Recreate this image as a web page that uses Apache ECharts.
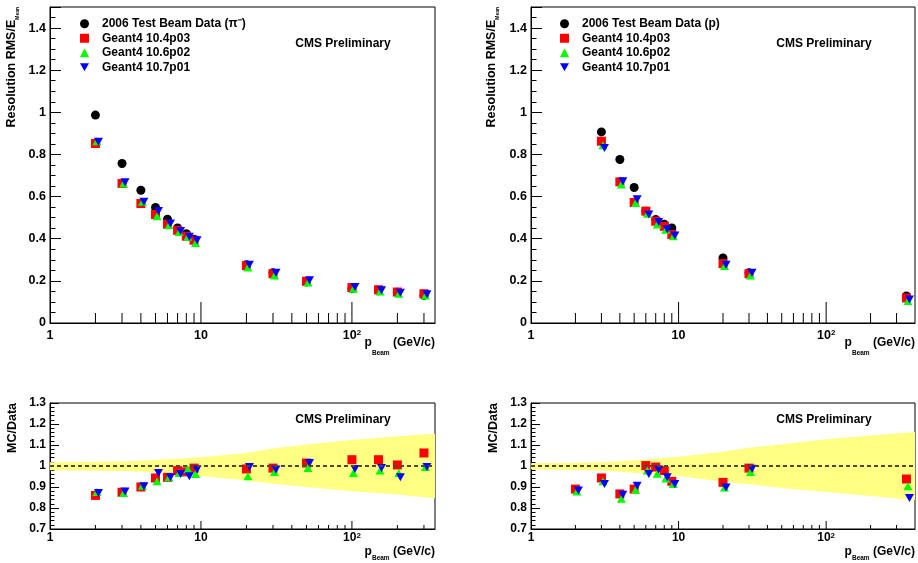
<!DOCTYPE html>
<html>
<head>
<meta charset="utf-8">
<script src="https://cdn.jsdelivr.net/npm/echarts@6/dist/echarts.min.js"></script>
<style>
html,body{margin:0;padding:0;background:#fff;}
#chart{width:918px;height:563px;}
</style>
</head>
<body>
<div id="chart"></div>
<script>
// ---------------- data ----------------
const legendPi = ['2006 Test Beam Data (\u03c0\u207b)', 'Geant4 10.4p03', 'Geant4 10.6p02', 'Geant4 10.7p01'];
const legendP  = ['2006 Test Beam Data (p)', 'Geant4 10.4p03', 'Geant4 10.6p02', 'Geant4 10.7p01'];

// pi- : beam momenta (GeV/c)
const xPi = [2, 3, 4, 5, 6, 7, 8, 9, 20, 30, 50, 100, 150, 200, 300];
const dataPi  = [0.987, 0.757, 0.630, 0.548, 0.493, 0.451, 0.424, 0.397, 0.277, 0.238, 0.195, 0.163, 0.153, 0.146, 0.131];
const redPi   = [0.852, 0.662, 0.567, 0.515, 0.469, 0.440, 0.412, 0.393, 0.272, 0.234, 0.198, 0.168, 0.158, 0.147, 0.139];
const greenPi = [0.863, 0.662, 0.575, 0.507, 0.464, 0.432, 0.409, 0.380, 0.263, 0.226, 0.192, 0.162, 0.150, 0.139, 0.131];
const bluePi  = [0.860, 0.668, 0.575, 0.532, 0.472, 0.437, 0.409, 0.393, 0.277, 0.238, 0.203, 0.171, 0.155, 0.144, 0.136];

const ratioRedPi   = [0.860, 0.875, 0.900, 0.943, 0.946, 0.978, 0.972, 0.990, 0.986, 0.990, 1.014, 1.030, 1.030, 1.005, 1.062];
const ratioGreenPi = [0.876, 0.871, 0.906, 0.927, 0.946, 0.967, 0.986, 0.962, 0.951, 0.971, 0.990, 0.967, 0.979, 0.967, 0.995];
const ratioBluePi  = [0.871, 0.879, 0.903, 0.967, 0.946, 0.962, 0.951, 0.983, 0.995, 0.983, 1.014, 0.986, 0.990, 0.946, 0.995];

// protons
const xP = [3, 4, 5, 6, 7, 8, 9, 20, 30, 350];
const dataP  = [0.907, 0.776, 0.643, 0.530, 0.491, 0.469, 0.451, 0.309, 0.238, 0.128];
const redP   = [0.863, 0.670, 0.572, 0.531, 0.483, 0.459, 0.420, 0.282, 0.234, 0.119];
const greenP = [0.844, 0.657, 0.570, 0.519, 0.467, 0.443, 0.412, 0.271, 0.226, 0.105];
const blueP  = [0.831, 0.673, 0.588, 0.515, 0.480, 0.445, 0.415, 0.277, 0.238, 0.111];

const xPr = [2, 3, 4, 5, 6, 7, 8, 9, 20, 30, 350];
const ratioRedP   = [0.890, 0.943, 0.867, 0.890, 1.002, 0.995, 0.978, 0.927, 0.922, 0.990, 0.938];
const ratioGreenP = [0.879, 0.927, 0.844, 0.887, 0.978, 0.963, 0.940, 0.914, 0.898, 0.971, 0.903];
const ratioBlueP  = [0.883, 0.914, 0.863, 0.906, 0.962, 0.983, 0.946, 0.914, 0.898, 0.987, 0.848];

// systematic bands (MC/Data)
const bandXL  = [1, 3, 5, 10, 20, 30, 50, 100, 200, 355];
const bandHiL = [1.018, 1.022, 1.029, 1.042, 1.062, 1.083, 1.102, 1.124, 1.142, 1.153];
const bandLoL = [0.980, 0.976, 0.970, 0.952, 0.931, 0.915, 0.900, 0.880, 0.864, 0.847];
const bandXR  = [1, 3, 5, 10, 20, 30, 50, 100, 200, 400];
const bandHiR = [1.013, 1.018, 1.026, 1.044, 1.068, 1.087, 1.104, 1.127, 1.145, 1.162];
const bandLoR = [0.985, 0.978, 0.968, 0.952, 0.925, 0.913, 0.895, 0.876, 0.857, 0.837];

// axis ticks
const xMajorTicks = [10, 100];
const xMinorTicks = [2, 3, 4, 5, 6, 7, 8, 9, 20, 30, 40, 50, 60, 70, 80, 90, 200, 300];

// ---------------- helpers ----------------
const FONT = '"Liberation Sans", Arial, Helvetica, sans-serif';
const INV_TRI = 'path://M0,0L10,0L5,9Z';
const pairs = (xs, ys) => xs.map((x, i) => [x, ys[i]]);

const GRIDS = [
  {left: 50,  top: 7,   width: 385, height: 316},
  {left: 531, top: 7,   width: 384, height: 316},
  {left: 50,  top: 403, width: 385, height: 126},
  {left: 531, top: 403, width: 384, height: 126}
];
const XMAX = [355, 400, 355, 400];
const YCFG = [
  {min: 0, max: 1.5, interval: 0.2, minor: 4, len: 11, mlen: 5.5, fs: 12.5},
  {min: 0, max: 1.5, interval: 0.2, minor: 4, len: 11, mlen: 5.5, fs: 12.5},
  {min: 0.7, max: 1.3, interval: 0.1, minor: 5, len: 9, mlen: 4.5, fs: 12},
  {min: 0.7, max: 1.3, interval: 0.1, minor: 5, len: 9, mlen: 4.5, fs: 12}
];
const XTICKLEN = [[21, 10], [21, 10], [8, 4], [8, 4]];

function xLabel(v) {
  const e = Math.log10(v);
  const r = Math.round(e);
  if (Math.abs(e - r) > 1e-6) return '';
  if (r === 0) return '1';
  if (r === 1) return '10';
  return '10{s|' + r + '}';
}

const grid = GRIDS.map(g => Object.assign({
  show: true, borderColor: '#000', borderWidth: 1, backgroundColor: 'transparent',
  containLabel: false, outerBoundsMode: 'none'
}, g));

const xAxis = GRIDS.map((g, i) => ({
  type: 'log', logBase: 10, gridIndex: i, min: 1, max: XMAX[i],
  axisLine: {show: true, lineStyle: {color: '#000', width: 1}},
  axisTick: {show: false}, minorTick: {show: false}, splitLine: {show: false},
  axisLabel: {
    show: true, margin: i < 2 ? 6 : 3, color: '#000', fontFamily: FONT, fontWeight: 'bold',
    fontSize: i < 2 ? 12.5 : 12, formatter: xLabel, showMaxLabel: false,
    rich: {s: {fontSize: 8, fontFamily: FONT, fontWeight: 'bold', color: '#000', verticalAlign: 'top', lineHeight: 8}}
  }
}));

const yAxis = YCFG.map((c, i) => ({
  type: 'value', gridIndex: i, min: c.min, max: c.max, interval: c.interval,
  axisLine: {show: true, lineStyle: {color: '#000', width: 1}},
  axisTick: {show: true, inside: true, length: c.len, lineStyle: {color: '#000', width: 1}},
  minorTick: {show: true, splitNumber: c.minor, length: c.mlen, lineStyle: {color: '#000', width: 1}},
  splitLine: {show: false}, minorSplitLine: {show: false},
  axisLabel: {show: true, margin: 4, color: '#000', fontFamily: FONT, fontWeight: 'bold', fontSize: c.fs,
              showMaxLabel: i < 2 ? false : true}
}));

function tickSeries(gi) {
  const ymin = YCFG[gi].min;
  const all = xMinorTicks.concat(xMajorTicks);
  return {
    type: 'custom', name: 'xticks' + gi, xAxisIndex: gi, yAxisIndex: gi, silent: true, z: 6,
    data: all.map(v => [v, ymin]),
    renderItem: function (params, api) {
      const v = api.value(0);
      const pt = api.coord([v, api.value(1)]);
      const len = xMajorTicks.indexOf(v) >= 0 ? XTICKLEN[gi][0] : XTICKLEN[gi][1];
      return {type: 'line', shape: {x1: pt[0], y1: pt[1], x2: pt[0], y2: pt[1] - len},
              style: {stroke: '#000', lineWidth: 1}};
    }
  };
}

function bandSeries(gi, bx, hi, lo) {
  return {
    type: 'custom', name: 'band' + gi, xAxisIndex: gi, yAxisIndex: gi, silent: true, z: 1,
    data: [[bx[0], 1]],
    renderItem: function (params, api) {
      const pts = [];
      for (let k = 0; k < bx.length; k++) pts.push(api.coord([bx[k], hi[k]]));
      for (let k = bx.length - 1; k >= 0; k--) pts.push(api.coord([bx[k], lo[k]]));
      return {type: 'polygon', shape: {points: pts}, style: {fill: '#ffff84', stroke: null}};
    }
  };
}

function sc(name, gi, xs, ys, kind) {
  const base = {type: 'scatter', name: name, xAxisIndex: gi, yAxisIndex: gi, z: 3,
                data: pairs(xs, ys), emphasis: {disabled: true}};
  if (kind === 'data') Object.assign(base, {symbol: 'circle', symbolSize: 9, itemStyle: {color: '#000', opacity: 1}});
  if (kind === 'red') Object.assign(base, {symbol: 'rect', symbolSize: 9, itemStyle: {color: '#ff0000', opacity: 1}});
  if (kind === 'green') Object.assign(base, {symbol: 'triangle', symbolSize: [9, 8], symbolOffset: [1.5, 0], itemStyle: {color: '#00ff00', opacity: 1}});
  if (kind === 'blue') Object.assign(base, {symbol: INV_TRI, symbolSize: [9, 8], symbolOffset: [3, 0], itemStyle: {color: '#0000ff', opacity: 1}});
  return base;
}

const unityLine = {
  silent: true, symbol: 'none', label: {show: false},
  lineStyle: {color: '#4a4a3a', type: [4, 3], width: 2, opacity: 1},
  data: [{yAxis: 1}]
};

const series = [
  // top-left
  sc(legendPi[0], 0, xPi, dataPi, 'data'),
  sc(legendPi[1], 0, xPi, redPi, 'red'),
  sc(legendPi[2], 0, xPi, greenPi, 'green'),
  sc(legendPi[3], 0, xPi, bluePi, 'blue'),
  tickSeries(0),
  // top-right
  sc(legendP[0], 1, xP, dataP, 'data'),
  sc(legendP[1], 1, xP, redP, 'red'),
  sc(legendP[2], 1, xP, greenP, 'green'),
  sc(legendP[3], 1, xP, blueP, 'blue'),
  tickSeries(1),
  // bottom-left
  bandSeries(2, bandXL, bandHiL, bandLoL),
  {type: 'line', name: 'unity2', xAxisIndex: 2, yAxisIndex: 2, data: [], z: 2, markLine: unityLine},
  sc(legendPi[1], 2, xPi, ratioRedPi, 'red'),
  sc(legendPi[2], 2, xPi, ratioGreenPi, 'green'),
  sc(legendPi[3], 2, xPi, ratioBluePi, 'blue'),
  tickSeries(2),
  // bottom-right
  bandSeries(3, bandXR, bandHiR, bandLoR),
  {type: 'line', name: 'unity3', xAxisIndex: 3, yAxisIndex: 3, data: [], z: 2, markLine: unityLine},
  sc(legendP[1], 3, xPr, ratioRedP, 'red'),
  sc(legendP[2], 3, xPr, ratioGreenP, 'green'),
  sc(legendP[3], 3, xPr, ratioBlueP, 'blue'),
  tickSeries(3)
];

function legendAt(names, left) {
  return {
    show: true, orient: 'vertical', left: left, top: 16.5, padding: 0, itemGap: 0,
    itemWidth: 9, itemHeight: 9, selectedMode: false,
    data: names.map((n, k) => ({
      name: n,
      icon: k === 0 ? 'circle' : (k === 1 ? 'rect' : (k === 2 ? 'triangle' : INV_TRI)),
      itemStyle: {color: ['#000', '#ff0000', '#00ff00', '#0000ff'][k], opacity: 1}
    })),
    textStyle: {fontFamily: FONT, fontWeight: 'bold', fontSize: 12, color: '#000', lineHeight: 14.5, padding: [0, 0, 0, 8]}
  };
}

const T = (text, x, y, fs) => ({
  type: 'text', x: x, y: y, z: 10, silent: true,
  style: {text: text, x: 0, y: 0, fill: '#000', font: 'bold ' + fs + 'px ' + FONT, align: 'center', verticalAlign: 'middle'}
});

function yTitle(main, sub, x, y) {
  const rich = {
    a: {fontFamily: FONT, fontWeight: 'bold', fontSize: 12.5, lineHeight: 16, verticalAlign: 'middle', fill: '#000'},
    b: {fontFamily: FONT, fontWeight: 'bold', fontSize: 5, lineHeight: 5, verticalAlign: 'bottom', fill: '#000'}
  };
  return {
    type: 'text', x: x, y: y, rotation: Math.PI / 2, z: 10, silent: true,
    style: {text: '{a|' + main + '}' + (sub ? '{b|' + sub + '}' : ''), rich: rich, align: 'right', verticalAlign: 'middle', fill: '#000'}
  };
}

function xTitle(x, y, lh) {
  return {
    type: 'text', x: x, y: y, z: 10, silent: true,
    style: {
      text: '{a|p}{b|Beam}{a| (GeV/c)}', align: 'right', verticalAlign: 'middle', fill: '#000',
      rich: {
        a: {fontFamily: FONT, fontWeight: 'bold', fontSize: 12, lineHeight: lh, verticalAlign: 'middle', fill: '#000'},
        b: {fontFamily: FONT, fontWeight: 'bold', fontSize: 6.5, lineHeight: 7, verticalAlign: 'bottom', fill: '#000'}
      }
    }
  };
}

const graphic = [
  T('CMS Preliminary', 343, 44, 12),
  T('CMS Preliminary', 824, 44, 12),
  T('CMS Preliminary', 343, 419.5, 12),
  T('CMS Preliminary', 824, 419.5, 12),
  yTitle('Resolution RMS/E', 'Mean', 11.7, 7),
  yTitle('Resolution RMS/E', 'Mean', 491.8, 7),
  yTitle('MC/Data', '', 13, 403),
  yTitle('MC/Data', '', 493.5, 403),
  xTitle(435, 343, 27),
  xTitle(915, 343, 27),
  xTitle(435, 551.5, 21),
  xTitle(915, 551.5, 21)
];

const chart = echarts.init(document.getElementById('chart'), null, {renderer: 'canvas'});
chart.setOption({
  animation: false,
  backgroundColor: '#fff',
  grid: grid,
  xAxis: xAxis,
  yAxis: yAxis,
  legend: [legendAt(legendPi, 80), legendAt(legendP, 560)],
  tooltip: {show: false},
  series: series,
  graphic: graphic
});
</script>
</body>
</html>
